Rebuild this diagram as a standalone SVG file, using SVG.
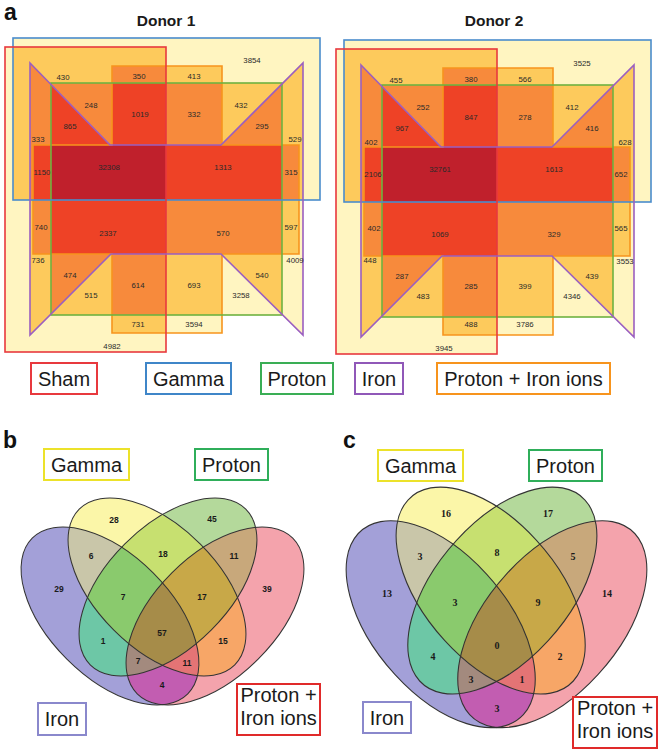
<svg xmlns="http://www.w3.org/2000/svg" xmlns:xlink="http://www.w3.org/1999/xlink" width="662" height="755" viewBox="0 0 662 755">
<style>
.n{font-family:"Liberation Sans",Arial,sans-serif;font-size:7.8px;fill:#2a2a2a;text-anchor:middle;dominant-baseline:central}
.lg{font-family:"Liberation Sans",Arial,sans-serif;font-size:20px;fill:#1a1a1a;text-anchor:middle}
.pl{font-family:"Liberation Sans",Arial,sans-serif;font-size:23px;font-weight:bold;fill:#111}
.tt{font-family:"Liberation Sans",Arial,sans-serif;font-size:15.5px;font-weight:bold;fill:#1a1a1a;text-anchor:middle}
.vb{font-family:"Liberation Sans",Arial,sans-serif;font-size:8.5px;font-weight:bold;fill:#1a1a1a;text-anchor:middle;dominant-baseline:central}
.vc{font-family:"Liberation Serif","Times New Roman",serif;font-size:10px;font-weight:bold;fill:#1a1a1a;text-anchor:middle;dominant-baseline:central}
.d1{fill:#fff5c1}.d2{fill:#fdca5c}.d3{fill:#f78a3c}.d4{fill:#ee4226}.d5{fill:#c0202c}
.box{fill:none;stroke-width:2}
.el{fill:none;stroke:#333;stroke-width:1}
</style>
<defs>
<rect id="sS" x="5" y="47" width="161" height="305"/>
<rect id="sG" x="13" y="38" width="307" height="162"/>
<rect id="sP" x="51" y="83" width="231" height="232"/>
<polygon id="sI" points="30,63 110,145 221,145 303,63 303,335 221,254 111,254 30,335"/>
<polygon id="sX" points="112,66 222,66 222,145 299,145 299,254 222,254 222,333 112,333 112,254 33,254 33,145 112,145"/>
<clipPath id="cS"><use xlink:href="#sS"/></clipPath>
<clipPath id="cG"><use xlink:href="#sG"/></clipPath>
<clipPath id="cP"><use xlink:href="#sP"/></clipPath>
<clipPath id="cI"><use xlink:href="#sI"/></clipPath>
<clipPath id="cX"><use xlink:href="#sX"/></clipPath>
<g id="geo">
<g class="d1"><use xlink:href="#sS"/><use xlink:href="#sG"/><use xlink:href="#sP"/><use xlink:href="#sI"/><use xlink:href="#sX"/></g>
<g class="d2">
<use xlink:href="#sS" clip-path="url(#cG)"/><use xlink:href="#sS" clip-path="url(#cP)"/><use xlink:href="#sS" clip-path="url(#cI)"/><use xlink:href="#sS" clip-path="url(#cX)"/>
<use xlink:href="#sG" clip-path="url(#cP)"/><use xlink:href="#sG" clip-path="url(#cI)"/><use xlink:href="#sG" clip-path="url(#cX)"/>
<use xlink:href="#sP" clip-path="url(#cI)"/><use xlink:href="#sP" clip-path="url(#cX)"/>
<use xlink:href="#sI" clip-path="url(#cX)"/>
</g>
<g class="d3">
<g clip-path="url(#cP)"><use xlink:href="#sS" clip-path="url(#cG)"/></g>
<g clip-path="url(#cI)"><use xlink:href="#sS" clip-path="url(#cG)"/></g>
<g clip-path="url(#cX)"><use xlink:href="#sS" clip-path="url(#cG)"/></g>
<g clip-path="url(#cI)"><use xlink:href="#sS" clip-path="url(#cP)"/></g>
<g clip-path="url(#cX)"><use xlink:href="#sS" clip-path="url(#cP)"/></g>
<g clip-path="url(#cX)"><use xlink:href="#sS" clip-path="url(#cI)"/></g>
<g clip-path="url(#cI)"><use xlink:href="#sG" clip-path="url(#cP)"/></g>
<g clip-path="url(#cX)"><use xlink:href="#sG" clip-path="url(#cP)"/></g>
<g clip-path="url(#cX)"><use xlink:href="#sG" clip-path="url(#cI)"/></g>
<g clip-path="url(#cX)"><use xlink:href="#sP" clip-path="url(#cI)"/></g>
</g>
<g class="d4">
<g clip-path="url(#cI)"><g clip-path="url(#cP)"><use xlink:href="#sS" clip-path="url(#cG)"/></g></g>
<g clip-path="url(#cX)"><g clip-path="url(#cP)"><use xlink:href="#sS" clip-path="url(#cG)"/></g></g>
<g clip-path="url(#cX)"><g clip-path="url(#cI)"><use xlink:href="#sS" clip-path="url(#cG)"/></g></g>
<g clip-path="url(#cX)"><g clip-path="url(#cI)"><use xlink:href="#sS" clip-path="url(#cP)"/></g></g>
<g clip-path="url(#cX)"><g clip-path="url(#cI)"><use xlink:href="#sG" clip-path="url(#cP)"/></g></g>
</g>
<g class="d5">
<g clip-path="url(#cX)"><g clip-path="url(#cI)"><g clip-path="url(#cP)"><use xlink:href="#sS" clip-path="url(#cG)"/></g></g></g>
</g>
<g fill="none" stroke-width="1.6">
<use xlink:href="#sX" stroke="#f7941d"/>
<use xlink:href="#sP" stroke="#6fb240"/>
<use xlink:href="#sG" stroke="#4a8ccc"/>
<use xlink:href="#sS" stroke="#e8393e"/>
<use xlink:href="#sI" stroke="#9b5fc0"/>
</g>
</g>
<ellipse id="eI" cx="110" cy="616" rx="110" ry="61" transform="rotate(45 110 616)"/>
<ellipse id="eG" cx="157" cy="587" rx="110" ry="61" transform="rotate(45 157 587)"/>
<ellipse id="eP" cx="168" cy="587" rx="110" ry="61" transform="rotate(-45 168 587)"/>
<ellipse id="eK" cx="215" cy="616" rx="110" ry="61" transform="rotate(-45 215 616)"/>
<clipPath id="kI"><use xlink:href="#eI"/></clipPath>
<clipPath id="kG"><use xlink:href="#eG"/></clipPath>
<clipPath id="kP"><use xlink:href="#eP"/></clipPath>
<clipPath id="kK"><use xlink:href="#eK"/></clipPath>
<g id="venn">
<use xlink:href="#eI" fill="#a3a0d8"/>
<use xlink:href="#eG" fill="#fbf6a8"/>
<use xlink:href="#eP" fill="#b4d99b"/>
<use xlink:href="#eK" fill="#f4a3ac"/>
<use xlink:href="#eI" clip-path="url(#kG)" fill="#c9c6a9"/>
<use xlink:href="#eI" clip-path="url(#kP)" fill="#6dc7a6"/>
<use xlink:href="#eI" clip-path="url(#kK)" fill="#c25db1"/>
<use xlink:href="#eG" clip-path="url(#kP)" fill="#c7e070"/>
<use xlink:href="#eG" clip-path="url(#kK)" fill="#f7a667"/>
<use xlink:href="#eP" clip-path="url(#kK)" fill="#c8a87b"/>
<g clip-path="url(#kP)"><use xlink:href="#eI" clip-path="url(#kG)" fill="#8aca6d"/></g>
<g clip-path="url(#kK)"><use xlink:href="#eI" clip-path="url(#kG)" fill="#e47475"/></g>
<g clip-path="url(#kK)"><use xlink:href="#eI" clip-path="url(#kP)" fill="#a38a7e"/></g>
<g clip-path="url(#kK)"><use xlink:href="#eG" clip-path="url(#kP)" fill="#c8a848"/></g>
<g clip-path="url(#kK)"><g clip-path="url(#kP)"><use xlink:href="#eI" clip-path="url(#kG)" fill="#a68c49"/></g></g>
<use xlink:href="#eI" class="el"/>
<use xlink:href="#eG" class="el"/>
<use xlink:href="#eP" class="el"/>
<use xlink:href="#eK" class="el"/>
</g>
</defs>

<g id="panel-a">
<text class="pl" x="4" y="20">a</text>
<g id="donor1">
<text class="tt" x="166" y="26">Donor 1</text>
<use xlink:href="#geo"/>
<g id="donor1-labels">
<text class="n" x="252" y="60">3854</text>
<text class="n" x="63" y="77">430</text>
<text class="n" x="139" y="76">350</text>
<text class="n" x="194" y="76">413</text>
<text class="n" x="91" y="105">248</text>
<text class="n" x="140" y="114">1019</text>
<text class="n" x="194" y="114">332</text>
<text class="n" x="241" y="105">432</text>
<text class="n" x="70" y="126">865</text>
<text class="n" x="262" y="126">295</text>
<text class="n" x="38" y="139">333</text>
<text class="n" x="295" y="139">529</text>
<text class="n" x="42" y="172">1150</text>
<text class="n" x="109" y="167">32308</text>
<text class="n" x="223" y="167">1313</text>
<text class="n" x="291" y="172">315</text>
<text class="n" x="41" y="227">740</text>
<text class="n" x="108" y="233">2337</text>
<text class="n" x="223" y="233">570</text>
<text class="n" x="291" y="227">597</text>
<text class="n" x="38" y="260">736</text>
<text class="n" x="295" y="260">4009</text>
<text class="n" x="70" y="275">474</text>
<text class="n" x="262" y="275">540</text>
<text class="n" x="138" y="285">614</text>
<text class="n" x="194" y="285">693</text>
<text class="n" x="91" y="295">515</text>
<text class="n" x="241" y="295">3258</text>
<text class="n" x="138" y="324">731</text>
<text class="n" x="194" y="324">3594</text>
<text class="n" x="112" y="346">4982</text>
</g>
</g>
<g id="donor2">
<text class="tt" x="494" y="26">Donor 2</text>
<use xlink:href="#geo" transform="translate(331,2)"/>
<g id="donor2-labels">
<text class="n" x="582" y="63">3525</text>
<text class="n" x="396" y="80">455</text>
<text class="n" x="471" y="79">380</text>
<text class="n" x="525" y="79">566</text>
<text class="n" x="423" y="107">252</text>
<text class="n" x="471" y="117">847</text>
<text class="n" x="525" y="117">278</text>
<text class="n" x="572" y="107">412</text>
<text class="n" x="402" y="128">967</text>
<text class="n" x="592" y="128">416</text>
<text class="n" x="371" y="142">402</text>
<text class="n" x="625" y="142">628</text>
<text class="n" x="373" y="174">2106</text>
<text class="n" x="440" y="169">32761</text>
<text class="n" x="554" y="169">1613</text>
<text class="n" x="621" y="174">652</text>
<text class="n" x="374" y="228">402</text>
<text class="n" x="440" y="234">1069</text>
<text class="n" x="554" y="234">329</text>
<text class="n" x="621" y="228">565</text>
<text class="n" x="370" y="260">448</text>
<text class="n" x="625" y="261">3553</text>
<text class="n" x="402" y="276">287</text>
<text class="n" x="592" y="276">439</text>
<text class="n" x="471" y="286">285</text>
<text class="n" x="525" y="286">399</text>
<text class="n" x="423" y="296">483</text>
<text class="n" x="572" y="296">4346</text>
<text class="n" x="471" y="324">488</text>
<text class="n" x="525" y="324">3786</text>
<text class="n" x="444" y="348">3945</text>
</g>
</g>
<g id="legend">
<g id="leg-sham"><rect class="box" x="31" y="363" width="66" height="31" stroke="#e8393e"/><text class="lg" x="64" y="386">Sham</text></g>
<g id="leg-gamma"><rect class="box" x="146" y="363" width="85" height="31" stroke="#3f86c8"/><text class="lg" x="188.5" y="386">Gamma</text></g>
<g id="leg-proton"><rect class="box" x="261" y="363" width="72" height="31" stroke="#3aae55"/><text class="lg" x="297" y="386">Proton</text></g>
<g id="leg-iron"><rect class="box" x="355" y="363" width="48" height="31" stroke="#9058b8"/><text class="lg" x="379" y="386">Iron</text></g>
<g id="leg-pi"><rect class="box" x="437" y="363" width="173" height="31" stroke="#f7941d"/><text class="lg" x="523.5" y="386">Proton + Iron ions</text></g>
</g>
</g>

<g id="panel-b">
<text class="pl" x="3" y="448">b</text>
<use xlink:href="#venn"/>
<g id="b-gamma"><rect class="box" x="44" y="449" width="85" height="31" stroke="#ece22a"/><text class="lg" x="86.5" y="472">Gamma</text></g>
<g id="b-proton"><rect class="box" x="195" y="449" width="73" height="31" stroke="#2fae5a"/><text class="lg" x="231.5" y="472">Proton</text></g>
<g id="b-iron"><rect class="box" x="38" y="703" width="48" height="32" stroke="#8a88cc"/><text class="lg" x="62" y="726">Iron</text></g>
<g id="b-pi"><rect class="box" x="237" y="684" width="83" height="51" stroke="#e02a2a"/><text class="lg" x="278.5" y="702">Proton +</text><text class="lg" x="278.5" y="725">Iron ions</text></g>
<g id="b-nums">
<text class="vb" x="114" y="520">28</text>
<text class="vb" x="212" y="519">45</text>
<text class="vb" x="91" y="556">6</text>
<text class="vb" x="163" y="554">18</text>
<text class="vb" x="234" y="556">11</text>
<text class="vb" x="59" y="589">29</text>
<text class="vb" x="123" y="597">7</text>
<text class="vb" x="202" y="597">17</text>
<text class="vb" x="267" y="589">39</text>
<text class="vb" x="103" y="641">1</text>
<text class="vb" x="162" y="633">57</text>
<text class="vb" x="223" y="641">15</text>
<text class="vb" x="138" y="661">7</text>
<text class="vb" x="187" y="663">11</text>
<text class="vb" x="162" y="685">4</text>
</g>
</g>

<g id="panel-c">
<text class="pl" x="343" y="448">c</text>
<use xlink:href="#venn" transform="translate(496.5,487) scale(1.063,1.163) translate(-162.5,-498)"/>
<g id="c-gamma"><rect class="box" x="378" y="450" width="85" height="31" stroke="#ece22a"/><text class="lg" x="420.5" y="473">Gamma</text></g>
<g id="c-proton"><rect class="box" x="529" y="450" width="73" height="31" stroke="#2fae5a"/><text class="lg" x="565.5" y="473">Proton</text></g>
<g id="c-iron"><rect class="box" x="363" y="702" width="48" height="31" stroke="#8a88cc"/><text class="lg" x="387" y="725">Iron</text></g>
<g id="c-pi"><rect class="box" x="573" y="697" width="84" height="51" stroke="#e02a2a"/><text class="lg" x="615" y="715">Proton +</text><text class="lg" x="615" y="738">Iron ions</text></g>
<g id="c-nums">
<text class="vc" x="446" y="513">16</text>
<text class="vc" x="548" y="513">17</text>
<text class="vc" x="420" y="556">3</text>
<text class="vc" x="497" y="552">8</text>
<text class="vc" x="573" y="556">5</text>
<text class="vc" x="387" y="593">13</text>
<text class="vc" x="455" y="602">3</text>
<text class="vc" x="538" y="602">9</text>
<text class="vc" x="607" y="593">14</text>
<text class="vc" x="433" y="656">4</text>
<text class="vc" x="497" y="645">0</text>
<text class="vc" x="560" y="656">2</text>
<text class="vc" x="471" y="679">3</text>
<text class="vc" x="522" y="679">1</text>
<text class="vc" x="497" y="708">3</text>
</g>
</g>
</svg>
